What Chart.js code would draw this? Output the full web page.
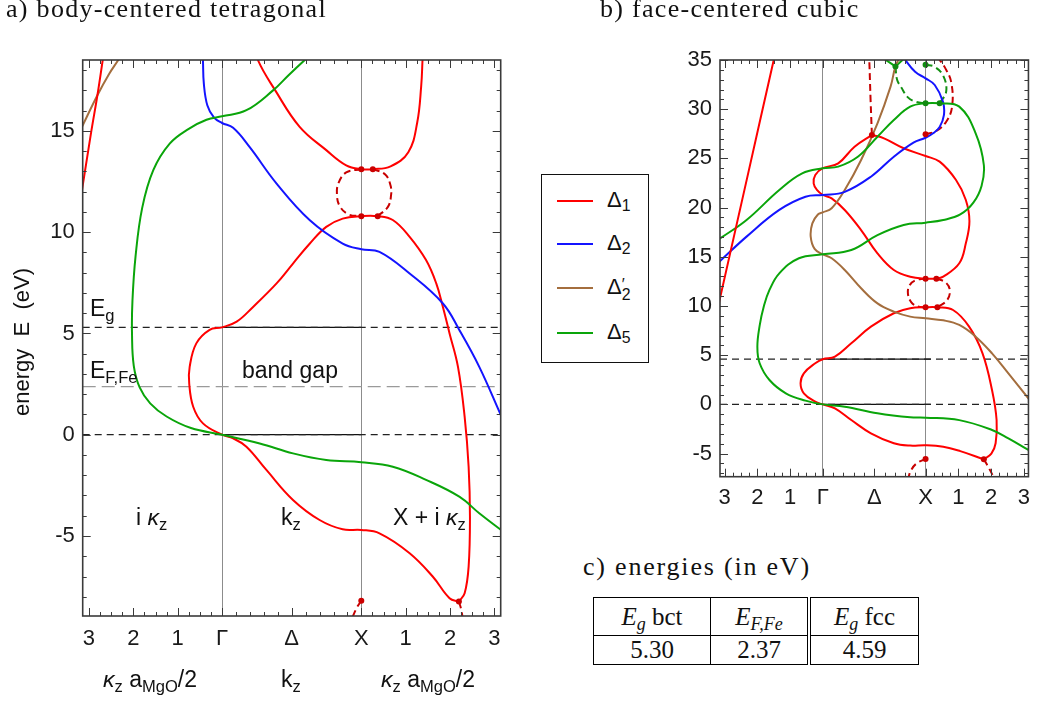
<!DOCTYPE html>
<html>
<head>
<meta charset="utf-8">
<script src="https://cdn.jsdelivr.net/npm/chart.js@4.4.1/dist/chart.umd.min.js"></script>
<style>
  body { margin: 0; background: #fff; width: 1038px; height: 702px; position: relative; overflow: hidden;
         font-family: "Liberation Sans", Arial, sans-serif; color: #111; }
  canvas { position: absolute; }
  .t { position: absolute; line-height: 1; white-space: pre; }
  .serif { font-family: "Liberation Serif", "Times New Roman", serif; letter-spacing: 1.3px; }
  sub { font-size: 72%; vertical-align: -0.28em; line-height: 0; }
  #legend { position: absolute; left: 541px; top: 174px; width: 106px; height: 187px; border: 1.5px solid #111; }
  #legend .sw { position: absolute; left: 15px; width: 36px; height: 2px; }
  #legend .lb { position: absolute; left: 65px; font-size: 22px; line-height: 1; }
  .ps { display: inline-block; vertical-align: -0.35em; line-height: 0.62; font-size: 72%; text-align: left; }
  table { position: absolute; left: 593px; top: 597px; border-collapse: collapse;
          font-family: "Liberation Serif", "Times New Roman", serif; font-size: 25px; }
  td { border: 1px solid #000; text-align: center; padding: 0; }
  td.dbl { border-left: 4px double #000; }
</style>
</head>
<body>
<canvas id="bct" width="520" height="702" style="left:0;top:0"></canvas>
<canvas id="fcc" width="378" height="520" style="left:660px;top:0"></canvas>

<div class="t serif" style="left:6px;top:-4px;font-size:26px">a) body-centered tetragonal</div>
<div class="t serif" style="left:600px;top:-4px;font-size:26px">b) face-centered cubic</div>
<div class="t serif" style="left:583px;top:554px;font-size:26px;letter-spacing:1.8px">c) energies (in eV)</div>

<div class="t" style="left:-78px;top:330px;width:200px;text-align:center;line-height:24px;font-size:22px;transform:rotate(-90deg)">energy  E  (eV)</div>

<div class="t" style="left:90px;top:297px;font-size:23px">E<sub>g</sub></div>
<div class="t" style="left:90px;top:359px;font-size:23px">E<sub>F,Fe</sub></div>
<div class="t" style="left:242px;top:359px;font-size:23px">band gap</div>
<div class="t" style="left:136px;top:506px;font-size:23px">i <i>κ</i><sub>z</sub></div>
<div class="t" style="left:281px;top:506px;font-size:23px">k<sub>z</sub></div>
<div class="t" style="left:393px;top:506px;font-size:23px">X + i <i>κ</i><sub>z</sub></div>

<div class="t" style="left:103px;top:668px;font-size:23px"><i>κ</i><sub>z</sub> a<sub>MgO</sub>/2</div>
<div class="t" style="left:281px;top:668px;font-size:23px">k<sub>z</sub></div>
<div class="t" style="left:381px;top:668px;font-size:23px"><i>κ</i><sub>z</sub> a<sub>MgO</sub>/2</div>

<div id="legend"></div>
<table id="energies"></table>

<script>
const PI = Math.PI;

// energies listed in the table (eV): Eg bct, EF of Fe, Eg fcc
const tableHeads = ['<i>E<sub>g</sub></i> bct', '<i>E<sub>F,Fe</sub></i>', '<i>E<sub>g</sub></i> fcc'];
const tableValues = [5.30, 2.37, 4.59];

// x axis: iκ branch (left), real k along Δ (Γ..X), X + iκ branch (right)
const bandTickValues = [-3, -2, -1, 0, PI / 2, PI, PI + 1, PI + 2, PI + 3];
const bandTickLabels = ['3', '2', '1', 'Γ', 'Δ', 'X', '1', '2', '3'];
const bctYTicks = [-5, 0, 5, 10, 15];
const fccYTicks = [-5, 0, 5, 10, 15, 20, 25, 30, 35];

const legendLabels = ['Δ<sub>1</sub>', 'Δ<sub>2</sub>', 'Δ<span class="ps">′<br>2</span>', 'Δ<sub>5</sub>'];

// ---- body-centered tetragonal bands [x, E] ----
const bctRedSteep = [[-3.2, 11.5], [-3.14, 12.32], [-2.95, 14.95], [-2.81, 16.76], [-2.69, 18.5], [-2.65, 19.1]];
const bctBrown = [[-3.2, 15.0], [-3.14, 15.28], [-2.81, 16.76], [-2.55, 17.8], [-2.34, 18.5], [-2.25, 18.85]];
const bctGreen = [[1.95, 18.65], [1.86, 18.49], [1.5, 17.75], [1.15, 17.0], [0.55, 16.02], [0, 15.72], [-0.35, 15.55],
  [-0.75, 15.1], [-1.18, 14.37], [-1.55, 13.06], [-1.8, 11.2], [-1.95, 8.8], [-2.02, 6.6], [-2.03, 5.0],
  [-1.99, 3.4], [-1.86, 2.35], [-1.62, 1.55], [-1.25, 0.9], [-0.7, 0.33], [0, 0], [0.85, -0.43], [1.6, -0.92],
  [2.35, -1.25], [3.14, -1.36], [3.85, -1.58], [4.6, -2.23], [5.35, -3.06], [5.8, -3.88], [6.27, -4.67], [6.35, -4.8]];
const bctBlue = [[-0.44, 19.1], [-0.43, 18.49], [-0.41, 17.33], [-0.33, 16.25], [-0.18, 15.65], [0, 15.39], [0.25, 15.15],
  [0.62, 14.21], [1.23, 12.4], [1.98, 10.59], [2.72, 9.44], [3.14, 9.16], [3.55, 9.03], [4.23, 7.96], [4.98, 6.48],
  [5.35, 5.17], [5.8, 3.35], [6.27, 1.05], [6.35, 0.65]];
const bctRedTop = [[0.78, 19.1], [0.81, 18.49], [1.2, 17.0], [1.75, 15.2], [2.35, 14.05], [2.8, 13.3], [3.14, 13.11],
  [3.4, 13.11], [3.8, 13.25], [4.2, 13.95], [4.4, 15.4], [4.49, 17.2], [4.52, 18.49], [4.53, 19.1]];
const bctRedLoop = [[5.34, -8.24], [5.13, -8.07], [4.75, -7.0], [4.23, -5.85], [3.55, -4.87], [3.14, -4.70], [2.72, -4.67],
  [2.2, -4.21], [1.6, -3.22], [1.0, -1.74], [0.55, -0.59], [0.25, -0.18], [0, 0], [-0.43, 0.56], [-0.65, 1.38],
  [-0.74, 2.53], [-0.73, 3.35], [-0.58, 4.51], [-0.28, 5.18], [0, 5.30], [0.33, 5.58], [0.7, 6.31], [1.23, 7.47],
  [1.6, 8.45], [1.98, 9.44], [2.35, 10.26], [2.72, 10.67], [3.14, 10.79], [3.51, 10.79], [3.85, 10.6], [4.23, 9.77],
  [4.6, 8.62], [4.83, 7.47], [4.98, 6.31], [5.13, 5.0], [5.32, 3.35], [5.47, 0.89], [5.56, -1.58], [5.59, -4.05],
  [5.56, -6.51], [5.47, -7.83], [5.34, -8.24]];
const bctLoopLeft = [[3.14, 13.11], [2.8, 12.95], [2.63, 12.45], [2.59, 11.91], [2.65, 11.3], [2.85, 10.88], [3.14, 10.79]];
const bctLoopRight = [[3.40, 13.11], [3.68, 12.85], [3.8, 12.3], [3.81, 11.8], [3.74, 11.25], [3.51, 10.79]];
const bctTailX = [[3.14, -8.2], [3.05, -8.5], [2.92, -9.1]];
const bctTailRight = [[5.34, -8.24], [5.39, -8.6], [5.43, -9.1]];
const bctDots = [[3.14, 13.11], [3.40, 13.11], [3.14, 10.79], [3.51, 10.79], [3.14, -8.2], [5.34, -8.24]];

// ---- face-centered cubic bands [x, E] ----
const fccRedSteep = [[-3.2, 9.9], [-3.13, 10.95], [-2.3, 23.2], [-1.5, 35], [-1.45, 35.7]];
const fccGreen = [[-3.2, 16.7], [-3.13, 16.88], [-2.33, 18.74], [-1.33, 21.79], [-0.63, 23.48], [0, 23.99], [0.47, 24.16],
  [1.07, 25.17], [1.67, 27.2], [2.17, 28.9], [2.67, 30.26], [3.14, 30.6], [3.57, 30.6], [4.17, 30.26], [4.67, 27.55],
  [4.92, 24.33], [4.85, 22.2], [4.6, 20.5], [4.2, 19.3], [3.68, 18.74], [3.14, 18.47], [2.47, 18.23], [1.67, 17.2],
  [0.87, 15.69], [0, 15.25], [-0.73, 14.85], [-1.33, 13.32], [-1.63, 11.63], [-1.8, 10.0], [-1.93, 8.0],
  [-2.0, 5.86], [-1.93, 4.18], [-1.63, 2.48], [-1.13, 1.13], [-0.53, 0.38], [0, 0], [0.67, -0.23], [1.67, -0.9],
  [2.67, -1.31], [3.14, -1.35], [4.17, -1.6], [5.17, -2.6], [5.67, -3.45], [6.28, -4.63], [6.35, -4.75]];
const fccBlue = [[-3.2, 14.4], [-3.13, 14.6], [-2.33, 17.05], [-1.33, 19.76], [-0.53, 21.1], [0, 21.28], [0.67, 21.6],
  [1.47, 23.14], [2.17, 25.17], [2.77, 26.6], [3.14, 27.1], [3.37, 27.55], [3.57, 28.2], [3.7, 29.4], [3.67, 30.77],
  [3.42, 32.46], [3.14, 33.14], [2.82, 33.8], [2.52, 35], [2.45, 35.4]];
const fccBrown = [[6.35, 0.3], [6.28, 0.62], [5.67, 3.16], [5.17, 5.19], [4.67, 6.88], [4.17, 8.07], [3.68, 8.54],
  [3.14, 8.75], [2.67, 8.92], [2.17, 9.43], [1.67, 10.26], [1.17, 11.8], [0.67, 13.66], [0.27, 14.85], [0, 15.25],
  [-0.25, 15.8], [-0.37, 17.05], [-0.32, 18.4], [-0.15, 19.3], [0, 19.52], [0.27, 19.93], [0.67, 21.79],
  [1.17, 24.84], [1.67, 28.57], [2.07, 32.29], [2.22, 34.35], [2.37, 35.4]];
const fccRedUpper = [[1.5, 27.38], [1.87, 27.04], [2.47, 26.03], [3.14, 25.24], [3.57, 24.67], [4.07, 22.8], [4.37, 20.77],
  [4.48, 18.6], [4.37, 16.37], [4.17, 14.34], [3.68, 12.98], [3.47, 12.78], [3.14, 12.78], [2.67, 12.98], [2.17, 13.66],
  [1.67, 15.35], [1.17, 17.72], [0.67, 19.76], [0.27, 20.94], [0, 21.28], [-0.18, 21.79], [-0.28, 22.46],
  [-0.23, 23.31], [0, 24.0], [0.47, 24.5], [0.97, 26.19], [1.5, 27.38]];
const fccRedLower = [[4.92, -5.58], [5.15, -5.0], [5.28, -3.95], [5.31, -1.59], [5.17, 1.46], [4.88, 5.19], [4.47, 7.9],
  [3.98, 9.59], [3.5, 9.87], [3.14, 9.87], [2.67, 9.77], [2.17, 9.26], [1.47, 7.9], [0.87, 6.21], [0.37, 4.85],
  [0, 4.59], [-0.23, 4.18], [-0.58, 3.16], [-0.68, 2.14], [-0.58, 1.13], [-0.23, 0.27], [0, 0], [0.37, -0.4],
  [0.87, -1.59], [1.47, -2.94], [2.17, -3.95], [2.67, -4.19], [3.14, -4.15], [3.68, -4.3], [4.2, -4.75], [4.92, -5.58]];
const fccLoopLeft = [[3.14, 12.78], [2.82, 12.6], [2.65, 12.1], [2.6, 11.29], [2.7, 10.4], [2.9, 9.95], [3.14, 9.87]];
const fccLoopRight = [[3.47, 12.78], [3.75, 12.4], [3.88, 11.63], [3.8, 10.6], [3.5, 9.87]];
const fccRedDashUpL = [[1.5, 27.38], [1.46, 30.9], [1.42, 35], [1.41, 35.6]];
const fccRedDashUpR = [[3.14, 27.45], [3.47, 27.8], [3.77, 28.73], [3.95, 30.26], [3.92, 32.8], [3.72, 34.3], [3.55, 35.1]];
const fccTailX = [[3.14, -5.55], [2.87, -5.99], [2.7, -6.67], [2.6, -7.6]];
const fccTailRight = [[4.92, -5.58], [5.08, -6.5], [5.25, -7.6]];
const fccGreenDashL = [[2.22, 34.35], [2.27, 33.0], [2.4, 32.2], [2.6, 31.2], [2.85, 30.75], [3.14, 30.6]];
const fccGreenDashR = [[3.14, 34.52], [3.42, 34.3], [3.68, 33.4], [3.77, 31.8], [3.57, 30.6]];
const fccGreenTop = [[1.7, 35.5], [2.22, 34.35], [2.6, 35.5]];
const fccGreenDots = [[2.22, 34.35], [3.14, 34.52], [3.14, 30.6], [3.57, 30.6]];
const fccRedDots = [[1.5, 27.38], [3.14, 27.45], [3.14, 12.78], [3.47, 12.78], [3.14, 9.87], [3.5, 9.87], [3.14, -5.55], [4.92, -5.58]];

const RED = '#ff0000', BLUE = '#1414ff', BROWN = '#a46e3e', GREEN = '#0aa50a';
const DARKRED = '#c80000', DARKGREEN = '#129012';
const legendColors = [RED, BLUE, BROWN, GREEN];

const pts = a => a.map(([x, y]) => ({ x, y }));

function band(a, color, extra) {
  return Object.assign({ data: pts(a), showLine: true, borderColor: color, borderWidth: 2, pointRadius: 0,
    tension: 0.4, fill: false, order: 1 }, extra);
}
function dashed(a, color) {
  return band(a, color, { borderDash: [7, 4], order: 2 });
}
function dots(a, color) {
  return { data: pts(a), showLine: false, pointRadius: 3, pointBackgroundColor: color, pointBorderWidth: 0, order: 0 };
}
function hline(y, x0, x1, color, dash) {
  return { data: [{ x: x0, y }, { x: x1, y }], showLine: true, borderColor: color, borderWidth: 1.3,
    borderDash: dash || [], pointRadius: 0, tension: 0, order: 3 };
}

function minorX() {
  const v = [];
  for (let k = -3; k <= 0; k += 0.25) v.push(k);
  for (let k = 1; k < 10; k++) v.push(k * PI / 10);
  for (let k = 0.25; k <= 3; k += 0.25) v.push(PI + k);
  return v;
}
function minorY(min, max) {
  const v = [];
  for (let k = Math.ceil(min); k <= max; k++) v.push(k);
  return v;
}

// frame with inward ticks on all four sides
function frameTicks(t) {
  return {
    id: 'frameTicks',
    afterDatasetsDraw(chart) {
      const { ctx, chartArea: a } = chart;
      const x = chart.scales.x, y = chart.scales.y;
      ctx.save();
      ctx.strokeStyle = '#3a3a3a';
      ctx.lineWidth = 1;
      ctx.beginPath();
      const tx = (v, len) => {
        const p = Math.round(x.getPixelForValue(v)) + 0.5;
        ctx.moveTo(p, a.bottom); ctx.lineTo(p, a.bottom - len);
        ctx.moveTo(p, a.top); ctx.lineTo(p, a.top + len);
      };
      const ty = (v, len) => {
        const p = Math.round(y.getPixelForValue(v)) + 0.5;
        ctx.moveTo(a.left, p); ctx.lineTo(a.left + len, p);
        ctx.moveTo(a.right, p); ctx.lineTo(a.right - len, p);
      };
      t.xMinor.forEach(v => tx(v, 4));
      t.xMajor.forEach(v => tx(v, 8));
      t.yMinor.forEach(v => ty(v, 4));
      t.yMajor.forEach(v => ty(v, 8));
      ctx.stroke();
      ctx.lineWidth = 1.6;
      ctx.strokeRect(a.left, a.top, a.right - a.left, a.bottom - a.top);
      ctx.restore();
    }
  };
}

const tickFont = { family: '"Liberation Sans", Arial, sans-serif', size: 22 };

function bandChart(id, c) {
  return new Chart(document.getElementById(id), {
    type: 'scatter',
    data: { datasets: c.datasets },
    options: {
      responsive: false,
      animation: false,
      events: [],
      layout: { padding: { left: 0, top: 60, right: c.padRight, bottom: 0 } },
      plugins: { legend: { display: false }, tooltip: { enabled: false } },
      scales: {
        x: {
          type: 'linear', min: -PI, max: 2 * PI,
          afterBuildTicks: s => { s.ticks = bandTickValues.map(v => ({ value: v })); },
          afterFit: s => { s.height = c.xHeight; },
          ticks: { callback: (v, i) => bandTickLabels[i], font: tickFont, color: '#1a1a1a',
                   padding: c.xPad, maxRotation: 0, autoSkip: false },
          grid: { drawTicks: false, lineWidth: 1,
                  color: g => (g.tick && (g.tick.value === 0 || g.tick.value === PI)) ? '#8c8c8c' : 'rgba(0,0,0,0)' },
          border: { display: false }
        },
        y: {
          min: c.yMin, max: c.yMax,
          afterBuildTicks: s => { s.ticks = c.yTicks.map(v => ({ value: v })); },
          afterFit: s => { s.width = c.yWidth; },
          ticks: { callback: v => String(v), font: tickFont, color: '#1a1a1a', padding: 8 },
          grid: { display: false, drawTicks: false },
          border: { display: false }
        }
      }
    },
    plugins: [frameTicks({ xMajor: bandTickValues, xMinor: minorX(), yMajor: c.yTicks, yMinor: minorY(c.yMin, c.yMax) })]
  });
}

const [bctGap, feFermi, fccGap] = tableValues;

bandChart('bct', {
  yMin: -8.95, yMax: 18.5, yTicks: bctYTicks, yWidth: 82.7, xHeight: 86, padRight: 19.3, xPad: 10,
  datasets: [
    dots(bctDots, '#cc0000'),
    band(bctRedSteep, RED), band(bctBrown, BROWN), band(bctGreen, GREEN), band(bctBlue, BLUE),
    band(bctRedTop, RED), band(bctRedLoop, RED),
    dashed(bctLoopLeft, DARKRED), dashed(bctLoopRight, DARKRED), dashed(bctTailX, DARKRED), dashed(bctTailRight, DARKRED),
    hline(0, -PI, 2 * PI, '#222', [7, 5]), hline(bctGap, -PI, 2 * PI, '#222', [7, 5]),
    hline(0, 0, PI, '#111'), hline(bctGap, 0, PI, '#111'),
    hline(feFermi, -PI, 2 * PI, '#9a9a9a', [13, 6])
  ]
});

bandChart('fcc', {
  yMin: -7.35, yMax: 35, yTicks: fccYTicks, yWidth: 60, xHeight: 43.3, padRight: 4.7, xPad: 8,
  datasets: [
    dots(fccRedDots, '#cc0000'), dots(fccGreenDots, '#108a10'),
    band(fccRedSteep, RED), band(fccGreen, GREEN), band(fccBlue, BLUE), band(fccBrown, BROWN),
    band(fccRedUpper, RED), band(fccRedLower, RED), band(fccGreenTop, GREEN, { tension: 0 }),
    dashed(fccLoopLeft, DARKRED), dashed(fccLoopRight, DARKRED), dashed(fccRedDashUpL, DARKRED),
    dashed(fccRedDashUpR, DARKRED), dashed(fccTailX, DARKRED), dashed(fccTailRight, DARKRED),
    dashed(fccGreenDashL, DARKGREEN), dashed(fccGreenDashR, DARKGREEN),
    hline(0, -PI, 2 * PI, '#222', [7, 5]), hline(fccGap, -PI, 2 * PI, '#222', [7, 5]),
    hline(0, 0, 3.3, '#111'), hline(fccGap, 0, 3.3, '#111')
  ]
});

// legend box
const legend = document.getElementById('legend');
const rowTops = [26, 69, 113, 158];
legendLabels.forEach((lab, i) => {
  legend.insertAdjacentHTML('beforeend',
    `<div class="sw" style="top:${rowTops[i] - 1}px;background:${legendColors[i]}"></div>` +
    `<div class="lb" style="top:${rowTops[i] - 12}px">${lab}</div>`);
});

// energies table
const table = document.getElementById('energies');
const widths = [116, 96, 107];
table.innerHTML =
  '<tr style="height:38px">' + tableHeads.map((h, i) =>
    `<td${i === 2 ? ' class="dbl"' : ''} style="width:${widths[i]}px">${h}</td>`).join('') + '</tr>' +
  '<tr style="height:28px">' + tableValues.map((v, i) =>
    `<td${i === 2 ? ' class="dbl"' : ''}>${v.toFixed(2)}</td>`).join('') + '</tr>';
</script>
</body>
</html>
